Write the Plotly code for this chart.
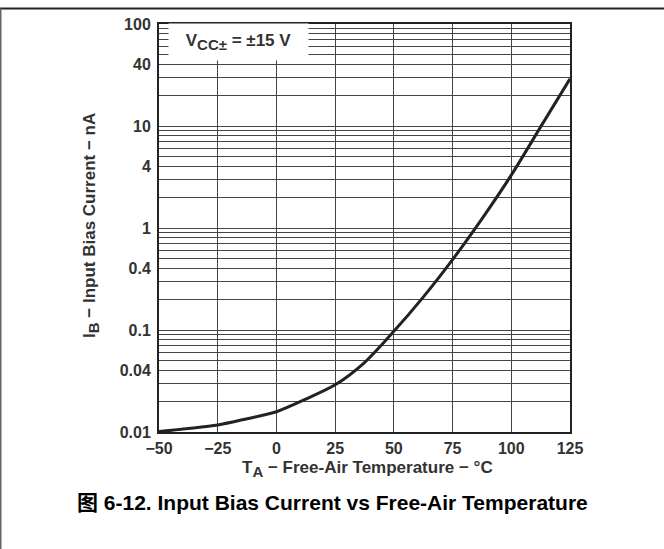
import plotly.graph_objects as go

# ---- data ----
temps = [-50, -37.5, -25, -12.5, 0, 12.5, 25, 37.5, 50, 62.5, 75, 87.5, 100, 112.5, 125]
ib_na = [0.0101, 0.0108, 0.0117, 0.0135, 0.0158, 0.021, 0.029, 0.048, 0.097, 0.21, 0.49, 1.23, 3.3, 9.8, 29]

x_ticks = [-50, -25, 0, 25, 50, 75, 100, 125]
x_ticklabels = ["\u221250", "\u221225", "0", "25", "50", "75", "100", "125"]
y_ticks = [0.01, 0.04, 0.1, 0.4, 1, 4, 10, 40, 100]
y_ticklabels = ["0.01", "0.04", "0.1", "0.4", "1", "4", "10", "40", "100"]
y_mantissas = [1, 2, 3, 4, 5, 6, 7, 8, 9]
y_decades = [0.01, 0.1, 1, 10]

y_minor = [round(m * d, 6) for d in y_decades for m in y_mantissas if round(m * d, 6) not in y_ticks]

W, H = 664, 549
L, R, T, B = 159, 94, 24, 117
pw, ph = W - L - R, H - T - B

def px(xpix):
    return (xpix - L) / pw

def py(ypix):
    return (H - B - ypix) / ph

FONT = "Liberation Sans, Arial, Noto Sans CJK SC, sans-serif"
TXT = "#333333"
GRID = "#444444"

fig = go.Figure()
fig.add_trace(go.Scatter(x=temps, y=ib_na, mode="lines",
                         line=dict(color="#222222", width=3, shape="spline", smoothing=0.8),
                         hoverinfo="skip", showlegend=False))

fig.update_layout(
    width=W, height=H,
    margin=dict(l=L, r=R, t=T, b=B, pad=0),
    paper_bgcolor="white", plot_bgcolor="white",
    font=dict(family=FONT, size=16, color=TXT, weight="bold"),
    showlegend=False,
)
fig.update_xaxes(range=[-50, 125], tickmode="array", tickvals=x_ticks, ticktext=x_ticklabels,
                 showgrid=True, gridcolor=GRID, gridwidth=1,
                 showline=True, linecolor="#222222", linewidth=2, mirror=True,
                 ticks="", zeroline=False, ticklabelstandoff=1,
                 tickfont=dict(family=FONT, size=16, color=TXT, weight="bold"))
fig.update_yaxes(type="log", range=[-2, 2], tickmode="array", tickvals=y_ticks, ticktext=y_ticklabels,
                 showgrid=True, gridcolor=GRID, gridwidth=1,
                 minor=dict(tickmode="array", tickvals=y_minor, showgrid=True,
                            gridcolor=GRID, gridwidth=1, ticks=""),
                 showline=True, linecolor="#222222", linewidth=2, mirror=True,
                 ticks="", zeroline=False, ticklabelstandoff=3,
                 tickfont=dict(family=FONT, size=16, color=TXT, weight="bold"))

# condition label box
fig.add_annotation(x=px(238.5), y=py(42.5), xref="paper", yref="paper",
                   text="V<sub><span style=\"font-size:15px\">CC\u00b1</span></sub> = \u00b115 V",
                   showarrow=False,
                   xanchor="center", yanchor="middle", width=137, height=34,
                   bgcolor="white", align="center", valign="middle",
                   font=dict(family=FONT, size=17, color=TXT, weight="bold"))

# axis titles
fig.add_annotation(x=px(367), y=py(469), xref="paper", yref="paper",
                   text="T<sub><span style=\"font-size:15px\">A</span></sub> \u2212 Free-Air Temperature \u2212 \u00b0C",
                   showarrow=False, xanchor="center", yanchor="middle",
                   font=dict(family=FONT, size=17, color=TXT, weight="bold"))
fig.add_annotation(x=px(91), y=py(226), xref="paper", yref="paper",
                   text="I<sub><span style=\"font-size:15px\">B</span></sub> \u2212 Input Bias Current \u2212 nA",
                   showarrow=False, textangle=-90, xanchor="center", yanchor="middle",
                   font=dict(family=FONT, size=17, color=TXT, weight="bold"))

# caption
fig.add_annotation(x=px(332), y=py(502), xref="paper", yref="paper",
                   text="\u56fe 6-12. Input Bias Current vs Free-Air Temperature", showarrow=False,
                   xanchor="center", yanchor="middle",
                   font=dict(family=FONT, size=21, color="black", weight="bold"))

# outer frame (top and left edges)
fig.add_shape(type="line", xref="paper", yref="paper", x0=px(0), x1=px(W), y0=py(8.5), y1=py(8.5),
              line=dict(color="#222222", width=2), layer="above")
fig.add_shape(type="line", xref="paper", yref="paper", x0=px(0.75), x1=px(0.75), y0=py(8.5), y1=py(H),
              line=dict(color="#666666", width=1.5), layer="above")

fig.write_html("out.html", config={"displayModeBar": False},
               post_script="document.body.style.margin='0';")
